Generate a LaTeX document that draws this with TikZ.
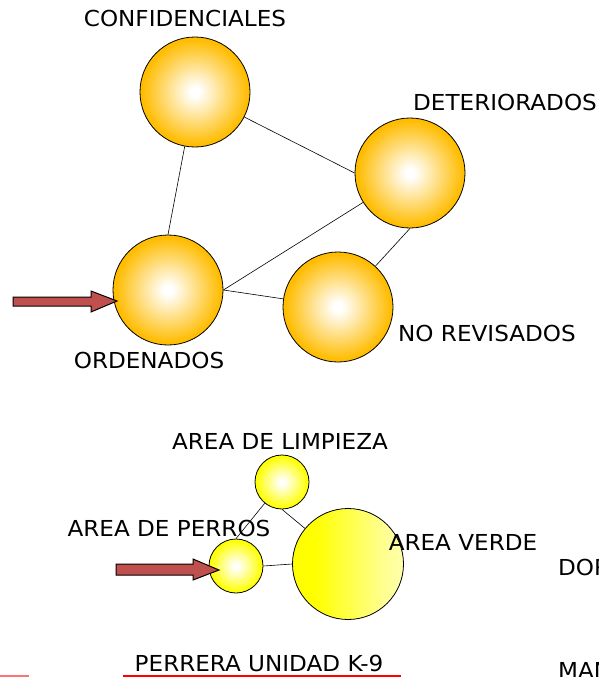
\documentclass[tikz,border=0pt]{standalone}
\usepackage{fontspec}
\setmainfont{DejaVu Sans}[FakeStretch=1.05]
\definecolor{goldc}{RGB}{255,188,0}
\definecolor{ylw}{RGB}{255,255,0}
\definecolor{arrowred}{RGB}{192,80,77}
\pgfdeclareradialshading{goldball}{\pgfpoint{0bp}{0bp}}{color(0bp)=(white); color(2bp)=(white); color(12bp)=(goldc!45!white); color(24bp)=(goldc); color(50bp)=(goldc)}
\pgfdeclareradialshading{yellowball}{\pgfpoint{0bp}{0bp}}{color(0bp)=(white); color(2bp)=(white); color(12bp)=(ylw!45!white); color(24bp)=(ylw); color(50bp)=(ylw)}
\pgfdeclarehorizontalshading{verdeshade}{100bp}{color(0bp)=(ylw); color(35bp)=(ylw); color(65bp)=(ylw!45!white); color(100bp)=(white)}
\begin{document}
\begin{tikzpicture}[x=1pt,y=-1pt,
  lab/.style={font=\fontsize{22}{26}\selectfont, inner sep=0pt},
  bigball/.style={circle, draw=black, line width=0.8pt, minimum size=110pt, inner sep=0pt, shading=goldball},
  smallball/.style={circle, draw=black, line width=0.8pt, minimum size=54pt, inner sep=0pt, shading=yellowball},
  greenball/.style={circle, draw=black, line width=0.8pt, minimum size=111pt, inner sep=0pt, shading=verdeshade},
  link/.style={draw=black, line width=0.6pt},
  blockarrow/.style={fill=arrowred, draw=black, line width=1pt, line join=miter}]
\useasboundingbox (0,0) rectangle (599,677);
\clip (0,0) rectangle (599,677);

% top group
\node[bigball] (conf) at (195,92) {};
\node[bigball] (det) at (410,173) {};
\node[bigball] (ord) at (168,290) {};
\node[bigball] (norev) at (338,307) {};

\draw[link] (ord.north) -- (conf);
\draw[link] (conf) -- (det.west);
\draw[link] (ord.east) -- (det);
\draw[link] (ord.east) -- (norev);
\draw[link] (det.south) -- (norev);

\node[lab] (lconf) at (185,18) {CONFIDENCIALES};
\node[lab] (ldet) at (505,102) {DETERIORADOS};
\node[lab] (lnorev) at (487,333) {NO REVISADOS};
\node[lab] (lord) at (149,360) {ORDENADOS};

\coordinate (tipA) at (117,301);
\draw[blockarrow] (13,297) -- (91,297) -- (91,291) -- (tipA) -- (91,312) -- (91,306) -- (13,306) -- cycle;

% bottom group
\node[smallball] (limp) at (282,482) {};
\node[smallball] (perros) at (236,566) {};
\node[greenball] (verde) at (348,564) {};

\draw[link] (perros.north) -- (limp);
\draw[link] (limp.south) -- (verde);
\draw[link] (perros.east) -- (verde.west);

\node[lab] (llimp) at (280,441) {AREA DE LIMPIEZA};
\node[lab] (lperros) at (169,528) {AREA DE PERROS};
\node[lab] (lverde) at (463,542) {AREA VERDE};
\node[lab, anchor=west] (ldor) at (558,567) {DOR};
\node[lab, anchor=base west] (lman) at (558,678) {MAN};

\coordinate (tipB) at (219,570);
\draw[blockarrow] (116,564) -- (193,564) -- (193,559) -- (tipB) -- (193,580) -- (193,575) -- (116,575) -- cycle;

\node[lab] (title) at (259,663) {PERRERA UNIDAD K-9};
\draw[red, line width=1.2pt] (123,676) -- (401,676);
\draw[red!55, line width=1.2pt] (0,676) -- (29,676);
\end{tikzpicture}
\end{document}
